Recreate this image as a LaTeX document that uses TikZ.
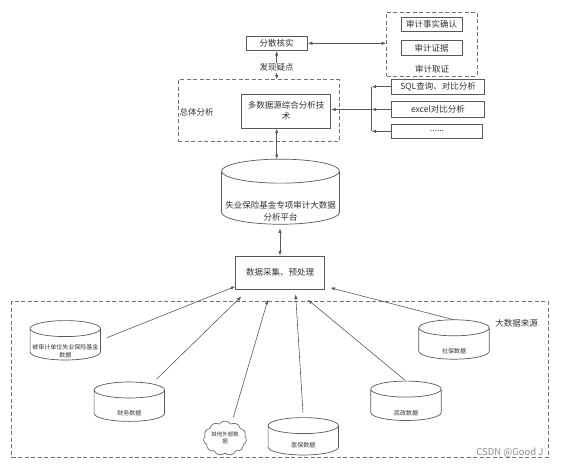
\documentclass[tikz,border=0pt]{standalone}
\usepackage{fontspec}
\setmainfont{Noto Sans CJK SC}
\usetikzlibrary{positioning, arrows.meta, shapes.symbols, calc}

\definecolor{lineC}{HTML}{595959}
\definecolor{textC}{HTML}{333333}

% cylinder outline round a (blank) node: #1 node, #2 cap radius
\newcommand{\dbdraw}[2]{%
  \path[draw=lineC, line width=0.7pt, fill=white]
    let \p1=(#1.north west), \p2=(#1.south east), \n1={(\x2-\x1)/2} in
    (\x1,\y1-#2) -- (\x1,\y2+#2)
    arc[start angle=180, end angle=360, x radius=\n1, y radius=#2]
    -- (\x2,\y1-#2)
    arc[start angle=0, end angle=180, x radius=\n1, y radius=#2]
    -- cycle
    (\x1,\y1-#2) arc[start angle=180, end angle=360, x radius=\n1, y radius=#2];
}

\begin{document}
\begin{tikzpicture}[
    x=1pt, y=-1pt,
    % Style definitions
    box/.style={
        rectangle, draw=lineC, fill=white, line width=0.8pt,
        font=\fontsize{8.5}{11}\selectfont, text=textC,
        align=center, inner sep=1pt
    },
    group/.style={
        rectangle, draw=lineC!85, dash pattern=on 4pt off 2.5pt,
        line width=0.9pt, inner sep=0pt
    },
    grouplabel/.style={
        font=\fontsize{8.5}{11}\selectfont, text=textC, inner sep=1pt
    },
    db/.style={
        rectangle, minimum width=70pt, minimum height=39pt, inner sep=0pt
    },
    dblabel/.style={
        font=\fontsize{6}{7.5}\selectfont, text=textC, align=center, inner sep=0pt
    },
    cloudbox/.style={
        cloud, cloud puffs=11, cloud puff arc=110, aspect=1.3,
        draw=lineC, line width=0.6pt, fill=white,
        minimum width=43pt, minimum height=33pt, inner sep=0pt,
        font=\fontsize{5.5}{7}\selectfont, text=textC, align=center
    },
    link/.style={
        -{Latex[length=4.5pt, width=3.5pt]}, draw=lineC, line width=0.6pt
    },
    duplex/.style={
        {Latex[length=4.5pt, width=3.5pt]}-{Latex[length=4.5pt, width=3.5pt]},
        draw=lineC, line width=0.8pt
    },
]
\useasboundingbox (0,0) rectangle (561,470);

% === Audit evidence group ===
\node[box, minimum width=61pt, minimum height=14.5pt] (fact) at (431.5, 24.5) {审计事实确认};
\node[box, minimum width=61pt, minimum height=14.5pt] (evid) at (431.5, 47.8) {审计证据};
\node[group, minimum width=90.3pt, minimum height=64pt] (proof) at (431.8, 44) {};
\node[grouplabel] (proofLbl) at (432, 69.5) {审计取证};

% === Check on site ===
\node[box, minimum width=61.3pt, minimum height=14.7pt] (check) at (276.7, 43.3) {分散核实};
\draw[duplex] (check.east) -- (proof.west |- check.east);

% === Overall analysis group ===
\node[group, minimum width=160.7pt, minimum height=61.7pt] (overall) at (258.7, 110.8) {};
\node[grouplabel] (overallLbl) at (196.7, 112.7) {总体分析};
\node[box, minimum width=89pt, minimum height=34.3pt] (tech) at (286.2, 111.2) {多数据源综合分析技\\术};
\draw[duplex] (check.south) -- (overall.north -| check.south);
\node[grouplabel, fill=white] (doubt) at (276.7, 67.7) {发现疑点};

% === Analysis methods ===
\node[box, minimum width=92.6pt, minimum height=15.3pt] (sql) at (438, 86.7) {SQL查询、对比分析};
\node[box, minimum width=92.6pt, minimum height=15.6pt] (excel) at (438, 109.5) {excel对比分析};
\node[box, minimum width=90.6pt, minimum height=14pt] (dots) at (437, 131.3) {......};

\coordinate (bus) at (371.7, 109.5);
\draw[lineC, line width=0.8pt] (bus |- sql.west) -- (bus |- dots.west);
\foreach \m in {sql, excel, dots}
    \draw[link] (\m.west) -- (bus |- \m.west);
\draw[link] (bus |- excel.west) -- (tech.east |- excel.west);

% === Big data platform ===
\node[db, minimum width=117.6pt, minimum height=64.7pt] (plat) at (280.5, 191.7) {};
\dbdraw{plat}{12pt}
\node[dblabel, font=\fontsize{8.5}{12}\selectfont] (platLbl) at (280.5, 211) {失业保险基金专项审计大数据\\分析平台};
\draw[duplex] (tech.south -| check.south) -- (plat.north -| check.south);

% === Collection ===
\node[box, minimum width=88.6pt, minimum height=33.3pt] (collect) at (280, 272.7) {数据采集、预处理};
\draw[duplex, shorten <=4pt] (plat.south -| collect.north) -- (collect.north);

% === Big data sources ===
\node[group, minimum width=536.6pt, minimum height=156pt] (sources) at (280, 379.7) {};
\node[grouplabel] (sourcesLbl) at (516.7, 323.3) {大数据来源};

\node[db] (audited) at (65.3, 340.3) {};
\node[db] (finance) at (129.3, 401.7) {};
\node[db, minimum height=37pt] (medical) at (303.3, 436.3) {};
\node[db] (civil) at (406, 400.8) {};
\node[db] (social) at (454, 339.5) {};
\foreach \s in {audited, finance, medical, civil, social} {
    \dbdraw{\s}{8pt}
}

\node[dblabel] (auditedLbl) at (65.3, 351) {被审计单位失业保险基金\\数据};
\node[dblabel] (financeLbl) at (129.3, 413.3) {财务数据};
\node[cloudbox] (external) at (225, 438.3) {其他外部数\\据};
\node[dblabel] (medicalLbl) at (303.3, 445.7) {医保数据};
\node[dblabel] (civilLbl) at (406, 413.3) {民政数据};
\node[dblabel] (socialLbl) at (454, 351) {社保数据};

% === Inputs to collection ===
\coordinate (in1) at ($(collect.south west)+(0,-3.3)$);
\coordinate (in2) at ($(collect.south west)+(6,6.7)$);
\coordinate (in3) at ($(collect.south west)+(32.6,10)$);
\coordinate (in4) at ($(collect.south west)+(60.3,4.7)$);
\coordinate (in5) at ($(collect.south west)+(72.6,10)$);
\coordinate (in6) at ($(collect.south east)+(5.7,-2)$);

\draw[link, shorten <=7pt] (audited.east) -- (in1);
\draw[link] ($(finance.north)+(27.4,-3)$) -- (in2);
\draw[link] ($(external.north)+(8.3,-3.5)$) -- (in3);
\draw[link, shorten <=5pt] (medical.north) -- (in4);
\draw[link, shorten <=1pt] (civil.north) -- (in5);
\draw[link, shorten <=1pt] (social.north) -- (in6);

\node[font=\fontsize{9.5}{10}\selectfont, text=black!45, anchor=east] (mark) at (547, 453) {CSDN @Good J};

\end{tikzpicture}
\end{document}
